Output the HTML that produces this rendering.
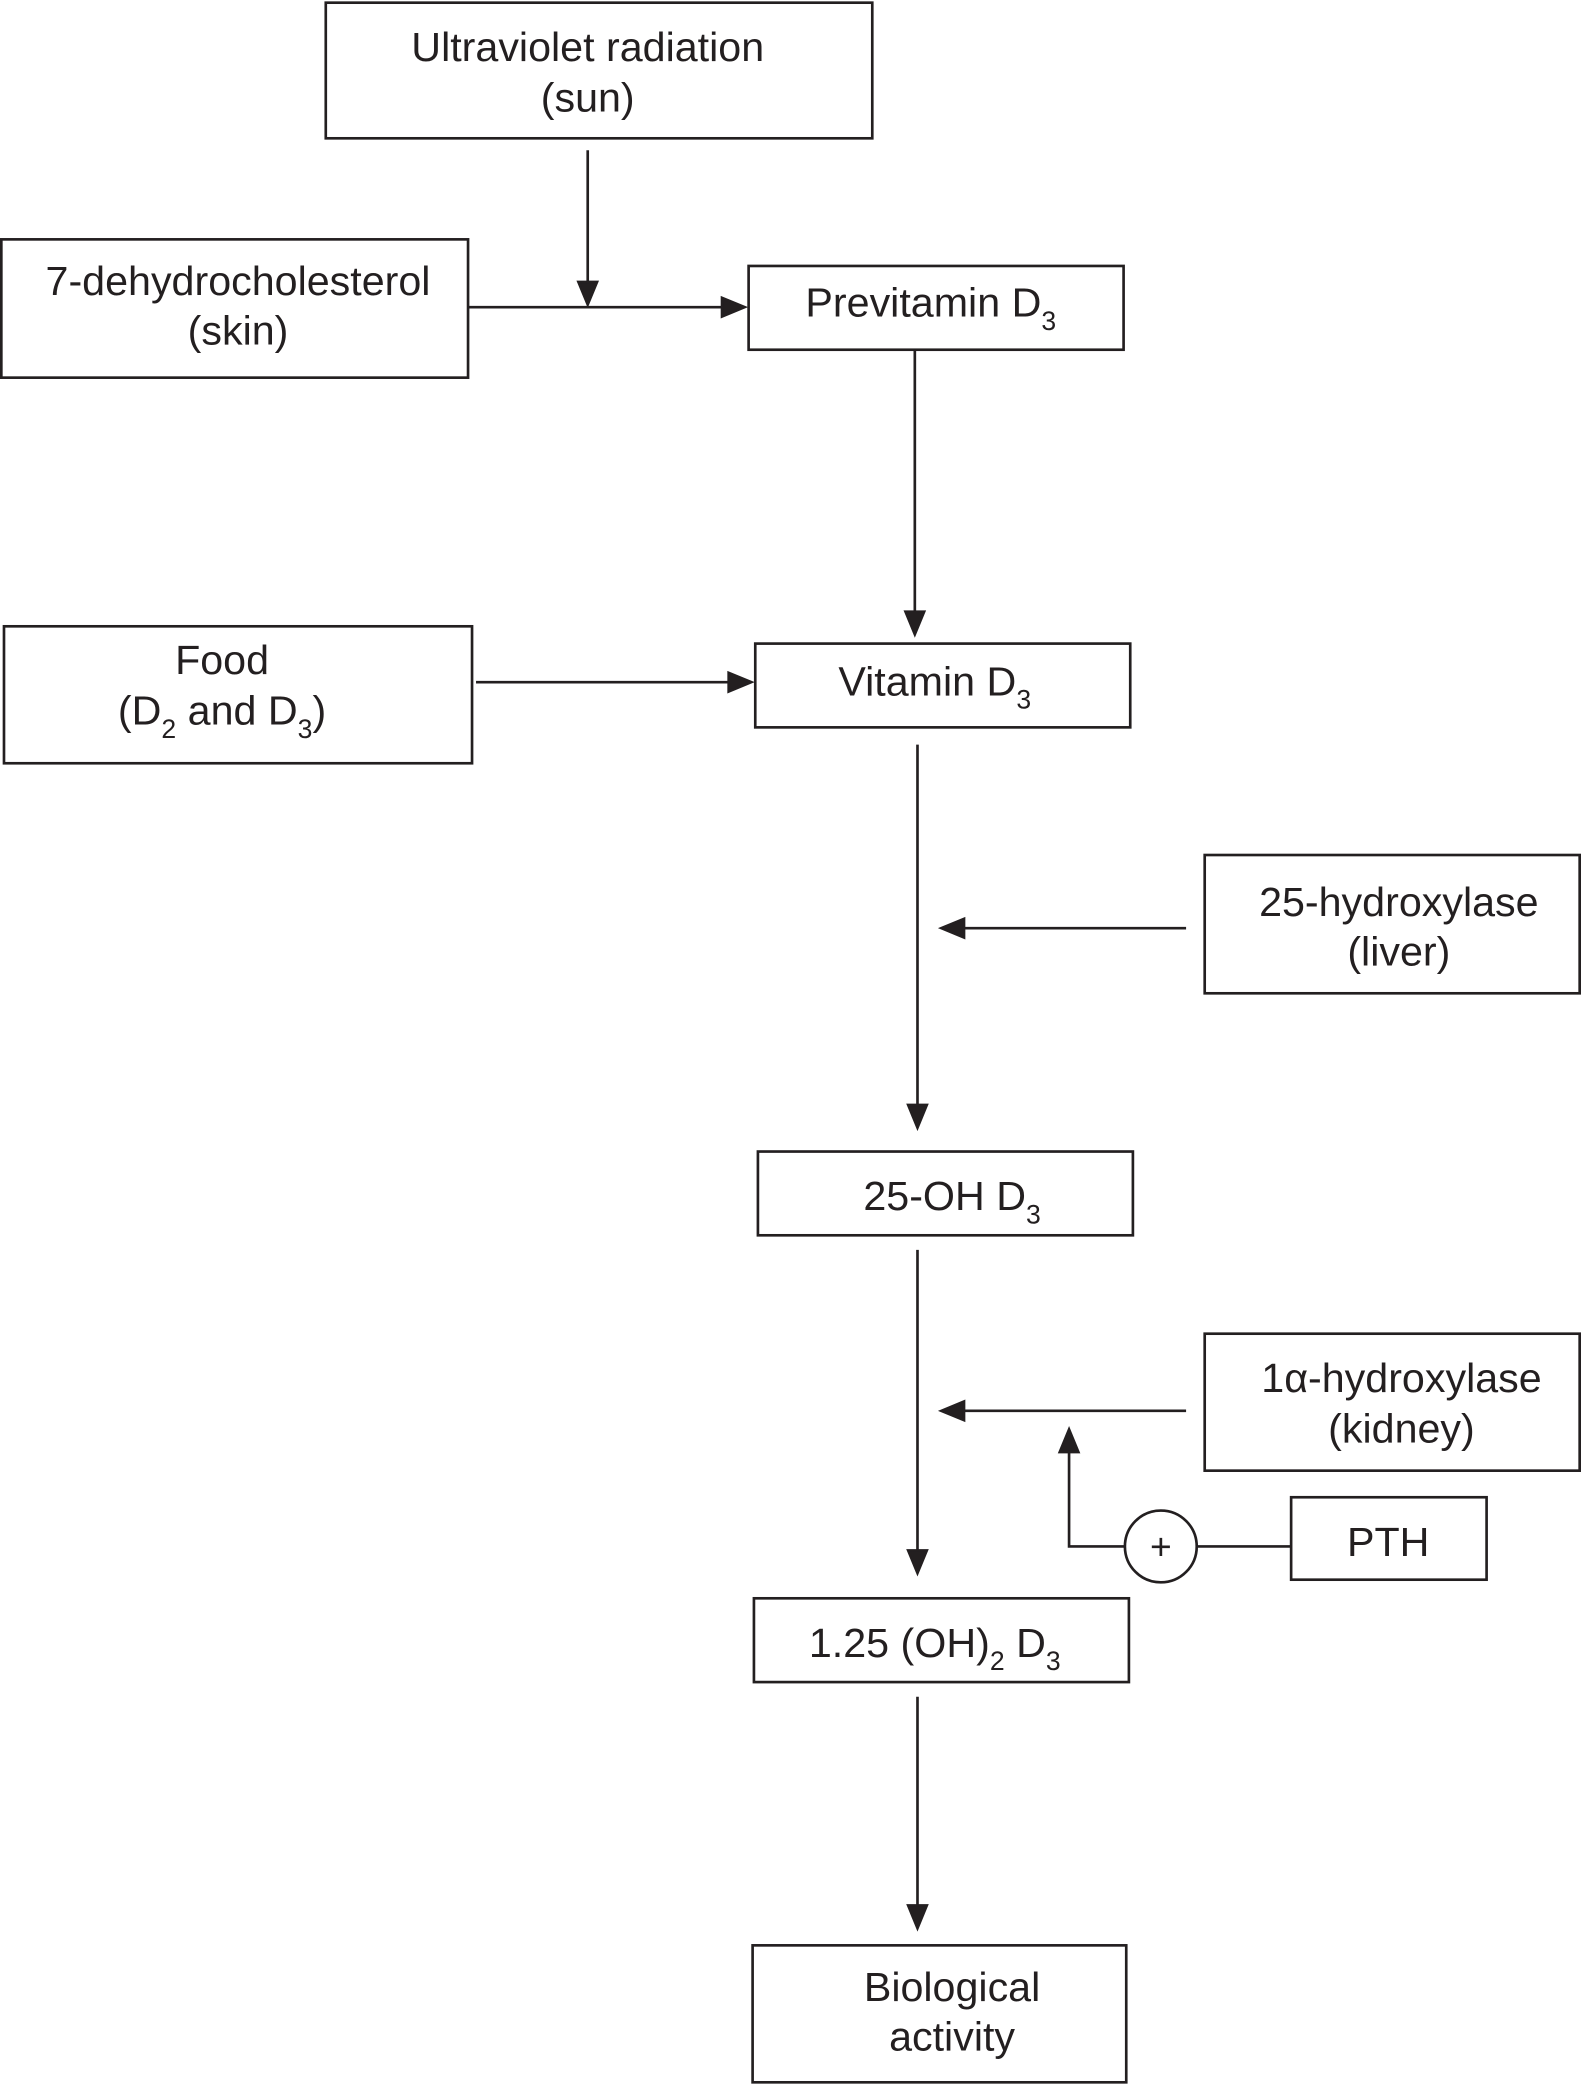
<!DOCTYPE html>
<html><head><meta charset="utf-8"><style>html,body{margin:0;padding:0;background:#fff}svg{display:block}</style></head>
<body>
<svg width="1581" height="2085" viewBox="0 0 1189 1568" xmlns="http://www.w3.org/2000/svg">
<g fill="none" stroke="#231f20" stroke-width="2">
<rect x="245" y="2" width="411" height="102"/>
<rect x="1" y="180" width="351" height="104"/>
<rect x="563" y="200" width="282" height="63"/>
<rect x="3" y="471" width="352" height="103"/>
<rect x="568" y="484" width="282" height="63"/>
<rect x="906" y="643" width="282" height="104"/>
<rect x="570" y="866" width="282" height="63"/>
<rect x="906" y="1003" width="282" height="103"/>
<rect x="971" y="1126" width="147" height="62"/>
<rect x="567" y="1202" width="282" height="63"/>
<rect x="566" y="1463" width="281" height="103"/>
<circle cx="873" cy="1163" r="27"/>
</g>
<g stroke="#231f20" stroke-width="2" fill="#231f20">
<line x1="442" y1="113" x2="442" y2="214"/><path d="M435,212 L449,212 L442,229 Z"/>
<line x1="352" y1="231" x2="545" y2="231"/><path d="M543,224 L543,238 L560,231 Z"/>
<line x1="688" y1="263" x2="688" y2="462"/><path d="M681,460 L695,460 L688,477 Z"/>
<line x1="358" y1="513" x2="550" y2="513"/><path d="M548,506 L548,520 L565,513 Z"/>
<line x1="690" y1="560" x2="690" y2="833"/><path d="M683,831 L697,831 L690,848 Z"/>
<line x1="892" y1="698" x2="723" y2="698"/><path d="M725,691 L725,705 L708,698 Z"/>
<line x1="690" y1="940" x2="690" y2="1168"/><path d="M683,1166 L697,1166 L690,1183 Z"/>
<line x1="892" y1="1061" x2="723" y2="1061"/><path d="M725,1054 L725,1068 L708,1061 Z"/>
<line x1="971" y1="1163" x2="900" y2="1163"/>
<polyline points="846,1163 804,1163 804,1090" fill="none"/><path d="M797,1092 L811,1092 L804,1075 Z"/>
<line x1="690" y1="1276" x2="690" y2="1435"/><path d="M683,1433 L697,1433 L690,1450 Z"/>
</g>
<g font-family="Liberation Sans, sans-serif" font-size="31" fill="#231f20" text-anchor="middle">
<text x="442" y="46">Ultraviolet radiation</text><text x="442" y="84">(sun)</text>
<text x="179" y="222">7-dehydrocholesterol</text><text x="179" y="259">(skin)</text>
<text x="700" y="238">Previtamin D<tspan font-size="20" dy="10">3</tspan></text>
<text x="167" y="507">Food</text>
<text x="167" y="545">(D<tspan font-size="20" dy="10">2</tspan><tspan dy="-10"> and D</tspan><tspan font-size="20" dy="10">3</tspan><tspan dy="-10">)</tspan></text>
<text x="703" y="523">Vitamin D<tspan font-size="20" dy="10">3</tspan></text>
<text x="1052" y="689">25-hydroxylase</text><text x="1052" y="726">(liver)</text>
<text x="716" y="910">25-OH D<tspan font-size="20" dy="10">3</tspan></text>
<text x="1054" y="1047">1α-hydroxylase</text><text x="1054" y="1085">(kidney)</text>
<text x="1044" y="1170">PTH</text>
<text x="873" y="1173" font-size="28">+</text>
<text x="703" y="1246">1.25 (OH)<tspan font-size="20" dy="10">2</tspan><tspan dy="-10"> D</tspan><tspan font-size="20" dy="10">3</tspan></text>
<text x="716" y="1505">Biological</text><text x="716" y="1542">activity</text>
</g>
</svg>
</body></html>
